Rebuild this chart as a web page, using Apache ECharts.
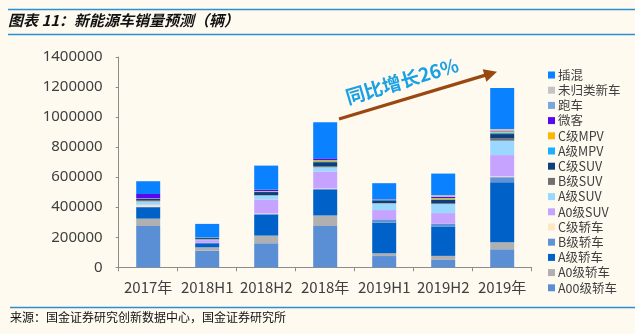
<!DOCTYPE html>
<html>
<head>
<meta charset="utf-8">
<script src="https://cdn.jsdelivr.net/npm/echarts@6/dist/echarts.min.js"></script>
<style>
  html, body { margin: 0; padding: 0; background: #fefaf0; }
  #chart { width: 635px; height: 334px; }
</style>
</head>
<body>
<div id="chart"></div>
<script>
// Categories and tick labels
var categories = ['2017年', '2018H1', '2018H2', '2018年', '2019H1', '2019H2', '2019年'];
var yTicks = { min: 0, max: 1400000, interval: 200000 };

// Sales by segment (vehicles), stacked bottom to top
var a00Sedan   = [275000, 111000, 160000, 275000,  75000,  49000, 120000];
var a0Sedan    = [ 49000,  22000,  51000,  70000,  18000,  27000,  47000];
var aSedan     = [ 76000,  27000, 140000, 170000, 204000, 196000, 400000];
var bSedan     = [  3000,   3000,   4000,   7000,  22000,  18000,  33000];
var cSedan     = [ 11000,      0,   3000,   3000,      0,      0,   5000];
var a0Suv      = [  3000,  18000,  93000, 111000,  62000,  71000, 142000];
var aSuv       = [ 22000,   4000,  27000,  30000,  44000,  60000,  96000];
var bSuv       = [  9000,   4000,   3000,   7000,   3000,   5000,  15000];
var cSuv       = [  7000,   7000,  20000,  27000,  18000,  22000,  29000];
var aMpv       = [  2000,   2000,   4000,   6000,   3000,   5000,  10000];
var cMpv       = [  2000,   1000,   3000,   8000,   2000,   8000,   8000];
var microVan   = [ 29000,   1000,   9000,  11000,   2000,   9000,   5000];
var sportsCar  = [     0,      0,      0,      0,      0,      0,      0];
var unassigned = [     0,      0,      0,      0,      0,  10000,  11000];
var phev       = [ 85000,  89000, 160000, 240000, 107000, 144000, 272000];

var seriesDefs = [
  { name: 'A00级轿车', data: a00Sedan,   color: '#5a8fd6' },
  { name: 'A0级轿车',  data: a0Sedan,    color: '#b0b0b0' },
  { name: 'A级轿车',   data: aSedan,     color: '#0062c8' },
  { name: 'B级轿车',   data: bSedan,     color: '#5f92d6' },
  { name: 'C级轿车',   data: cSedan,     color: '#fde8c4' },
  { name: 'A0级SUV',   data: a0Suv,      color: '#c6a3ff' },
  { name: 'A级SUV',    data: aSuv,       color: '#9bd8ff' },
  { name: 'B级SUV',    data: bSuv,       color: '#707070' },
  { name: 'C级SUV',    data: cSuv,       color: '#0c3f7c' },
  { name: 'A级MPV',    data: aMpv,       color: '#1bb0ff' },
  { name: 'C级MPV',    data: cMpv,       color: '#ffb400' },
  { name: '微客',      data: microVan,   color: '#5b06f0' },
  { name: '跑车',      data: sportsCar,  color: '#78a6de' },
  { name: '未归类新车', data: unassigned, color: '#c4c4c4' },
  { name: '插混',      data: phev,       color: '#0a82ff' }
];

var chart = echarts.init(document.getElementById('chart'), null, { renderer: 'canvas' });

var lineColor = '#2a90d0';
var axisGray = '#8c8c8c';
var textGray = '#404040';
var baseFont = '"Noto Sans CJK SC", "Noto Sans", sans-serif';

// Growth arrow geometry
var arrowStart = [339, 119], arrowTip = [497, 71.7];
var dx = arrowTip[0] - arrowStart[0], dy = arrowTip[1] - arrowStart[1];
var len = Math.sqrt(dx * dx + dy * dy);
var ux = dx / len, uy = dy / len;
var headLen = 13, headHalf = 6.5;
var base = [arrowTip[0] - ux * headLen, arrowTip[1] - uy * headLen];
var px = -uy, py = ux;

chart.setOption({
  backgroundColor: '#fefaf0',
  animation: false,
  textStyle: { fontFamily: baseFont },
  grid: { left: 118.7, right: 103.3, top: 57, bottom: 66.7, containLabel: false },
  legend: {
    orient: 'vertical',
    left: 543,
    top: 62.5,
    itemWidth: 7,
    itemHeight: 7,
    itemGap: 0.2,
    icon: 'rect',
    data: seriesDefs.map(function (s) { return s.name; }).reverse(),
    textStyle: { fontSize: 12.5, color: textGray, lineHeight: 15, padding: [0, 0, 0, -2] }
  },
  xAxis: {
    type: 'category',
    data: categories,
    axisLine: { show: true, lineStyle: { color: axisGray, width: 1 } },
    axisTick: { show: true, alignWithLabel: false, length: 4, lineStyle: { color: axisGray } },
    axisLabel: { color: textGray, fontSize: 15, margin: 12, interval: 0 },
    splitLine: { show: false }
  },
  yAxis: {
    type: 'value',
    min: yTicks.min,
    max: yTicks.max,
    interval: yTicks.interval,
    axisLine: { show: true, lineStyle: { color: axisGray, width: 1 } },
    axisTick: { show: true, length: 3, lineStyle: { color: axisGray } },
    axisLabel: {
      color: textGray, fontSize: 15, margin: 16,
      fontFamily: '"Noto Sans", sans-serif',
      formatter: function (v) { return String(v); }
    },
    splitLine: { show: false }
  },
  series: seriesDefs.map(function (s) {
    return {
      name: s.name,
      type: 'bar',
      stack: 'total',
      barWidth: 24,
      data: s.data,
      itemStyle: { color: s.color },
      emphasis: { disabled: true }
    };
  }),
  graphic: [
    { type: 'line', shape: { x1: 8, y1: 9.5, x2: 635, y2: 9.5 }, style: { stroke: lineColor, lineWidth: 1.5 } },
    { type: 'line', shape: { x1: 8, y1: 34.5, x2: 635, y2: 34.5 }, style: { stroke: lineColor, lineWidth: 1.5 } },
    { type: 'line', shape: { x1: 10, y1: 307.5, x2: 635, y2: 307.5 }, style: { stroke: lineColor, lineWidth: 1.5 } },
    {
      type: 'text', left: 8, top: 13,
      style: {
        text: '图表 11：新能源车销量预测（辆）',
        font: 'italic bold 15px "Noto Sans CJK SC", sans-serif',
        fill: '#111'
      }
    },
    {
      type: 'text', left: 10, top: 311,
      style: {
        text: '来源：国金证券研究创新数据中心，国金证券研究所',
        font: '12px "Noto Sans CJK SC", sans-serif',
        fill: '#111'
      }
    },
    {
      type: 'line',
      shape: { x1: arrowStart[0], y1: arrowStart[1], x2: base[0] + ux * 1, y2: base[1] + uy * 1 },
      style: { stroke: '#9a4812', lineWidth: 3.2 }
    },
    {
      type: 'polygon',
      shape: { points: [arrowTip, [base[0] + px * headHalf, base[1] + py * headHalf], [base[0] - px * headHalf, base[1] - py * headHalf]] },
      style: { fill: '#9a4812' }
    },
    {
      type: 'text',
      x: 402, y: 81,
      rotation: 0.29,
      style: {
        text: '同比增长26%',
        font: 'bold 19px "Noto Sans CJK SC", sans-serif',
        fill: '#1aa0e4',
        align: 'center',
        verticalAlign: 'middle'
      }
    }
  ]
});
</script>
</body>
</html>
